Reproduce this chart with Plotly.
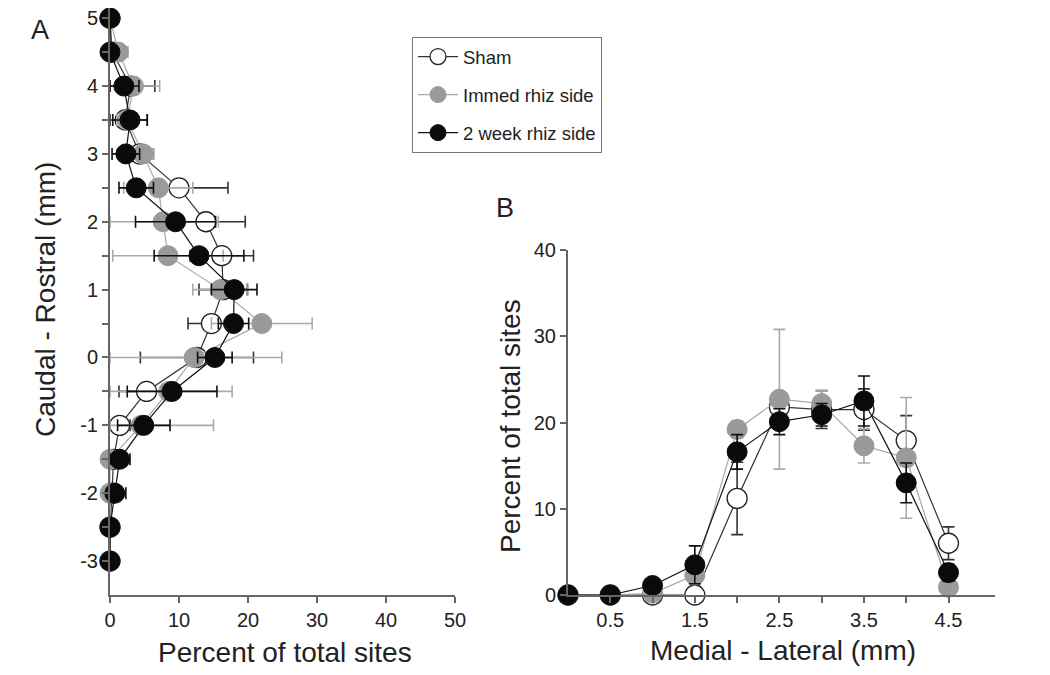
import plotly.graph_objects as go

# ---------------- Panel A data (caudal-rostral position vs percent) ----------------
pos_a = [5, 4.5, 4, 3.5, 3, 2.5, 2, 1.5, 1, 0.5, 0, -0.5, -1, -1.5, -2, -2.5, -3]
sham_a = [0, 0.3, 3.0, 2.2, 4.3, 10.0, 13.9, 16.2, 16.4, 14.7, 12.6, 5.3, 1.4, 0.5, 0.3, 0, 0]
sham_a_err = [0, 0, 3.5, 3.2, 2.0, 7.1, 5.7, 4.6, 3.5, 3.4, 8.2, 4.0, 1.5, 1.5, 0.5, 0, 0]
immed_a = [0, 1.2, 3.4, 2.5, 4.8, 7.0, 7.7, 8.4, 16.0, 22.0, 12.2, 8.5, 4.5, 0, 0, 0, 0]
immed_a_err = [0, 1.4, 3.8, 1.5, 1.5, 5.0, 8.0, 8.0, 4.0, 7.3, 12.7, 9.2, 10.5, 2.5, 1.0, 0, 0]
week2_a = [0, 0, 2.0, 2.9, 2.3, 3.8, 9.5, 12.9, 18.0, 17.9, 15.2, 9.0, 4.9, 1.4, 0.7, 0, 0]
week2_a_err = [0, 0, 2.2, 2.5, 2.0, 2.5, 5.8, 6.5, 3.3, 2.2, 2.5, 6.5, 3.8, 1.5, 1.6, 0, 0]

# ---------------- Panel B data (medial-lateral position vs percent) ----------------
pos_b = [0, 0.5, 1, 1.5, 2, 2.5, 3, 3.5, 4, 4.5]
sham_b = [0, 0, 0, 0, 11.2, 21.8, 21.5, 21.5, 17.9, 6.0]
sham_b_err = [0, 0, 0, 0.5, 4.2, 1.5, 2.2, 2.4, 2.9, 1.9]
immed_b = [0, 0, 0.2, 2.3, 19.2, 22.7, 22.2, 17.3, 15.9, 0.9]
immed_b_err = [0, 0, 0.3, 1.0, 1.0, 8.1, 1.5, 2.0, 7.0, 0.8]
week2_b = [0, 0, 1.1, 3.5, 16.6, 20.1, 20.9, 22.5, 13.0, 2.6]
week2_b_err = [0, 0, 0.3, 2.2, 2.0, 1.5, 1.3, 2.9, 2.3, 1.0]

names = ["Sham", "Immed rhiz side", "2 week rhiz side"]
ticks_a_y = [5, 4.5, 4, 3.5, 3, 2.5, 2, 1.5, 1, 0.5, 0, -0.5, -1, -1.5, -2, -2.5, -3]
ticks_a_y_text = ["5", "", "4", "", "3", "", "2", "", "1", "", "0", "", "-1", "", "-2", "", "-3"]
ticks_a_x = [0, 10, 20, 30, 40, 50]
ticks_b_x = [0.5, 1, 1.5, 2, 2.5, 3, 3.5, 4, 4.5]
ticks_b_x_text = ["0.5", "", "1.5", "", "2.5", "", "3.5", "", "4.5"]
ticks_b_y = [0, 10, 20, 30, 40]

styles = [
    dict(marker=dict(color="white", line=dict(color="#222", width=1.3)), line="#333", err="#333"),
    dict(marker=dict(color="#9a9a9a", line=dict(color="#9a9a9a", width=1)), line="#a8a8a8", err="#aaaaaa"),
    dict(marker=dict(color="#0a0a0a", line=dict(color="#0a0a0a", width=1)), line="#111", err="#111"),
]

W, H = 1050.0, 675.0
OFF = 8  # page body margin
FONT = "Liberation Sans, Arial"


def px(x):
    return (x - OFF) / W


def py(y):
    return 1 - (y - OFF) / H


fig = go.Figure()

series_a = [(sham_a, sham_a_err), (immed_a, immed_a_err), (week2_a, week2_a_err)]
for (vals, errs), nm, st in zip(series_a, names, styles):
    minus = [min(e, v) for v, e in zip(vals, errs)]
    fig.add_trace(go.Scatter(
        x=vals, y=pos_a, mode="lines+markers", name=nm, legendgroup=nm,
        line=dict(color=st["line"], width=1.2),
        marker=dict(size=20, symbol="circle", **st["marker"]),
        error_x=dict(type="data", array=errs, arrayminus=minus, symmetric=False,
                     color=st["err"], thickness=1.6, width=6),
        cliponaxis=False, xaxis="x", yaxis="y", showlegend=True,
    ))

series_b = [(sham_b, sham_b_err), (immed_b, immed_b_err), (week2_b, week2_b_err)]
for (vals, errs), nm, st in zip(series_b, names, styles):
    minus = [min(e, v) for v, e in zip(vals, errs)]
    fig.add_trace(go.Scatter(
        x=pos_b, y=vals, mode="lines+markers", name=nm, legendgroup=nm,
        line=dict(color=st["line"], width=1.2),
        marker=dict(size=20, symbol="circle", **st["marker"]),
        error_y=dict(type="data", array=errs, arrayminus=minus, symmetric=False,
                     color=st["err"], thickness=1.6, width=6),
        cliponaxis=False, xaxis="x2", yaxis="y2", showlegend=False,
    ))

axis_common = dict(showgrid=False, zeroline=False, showline=True, linecolor="#666",
                   linewidth=2, ticks="outside", ticklen=6, tickwidth=1.5, tickcolor="#666",
                   automargin=False, ticklabeloverflow="allow",
                   tickfont=dict(family=FONT, size=20, color="#222"))

fig.update_layout(
    width=1050, height=675,
    margin=dict(l=0, r=0, t=0, b=0, autoexpand=False),
    paper_bgcolor="white", plot_bgcolor="white",
    font=dict(family=FONT, color="#222"),
    xaxis=dict(domain=[px(110), px(455)], range=[0, 50], tickvals=ticks_a_x,
               anchor="y", **axis_common),
    yaxis=dict(domain=[py(595), py(8)], range=[-3.5, 5.15], tickvals=ticks_a_y,
               ticktext=ticks_a_y_text, anchor="x", **axis_common),
    xaxis2=dict(domain=[px(568), px(995)], range=[0, 5.05], tickvals=ticks_b_x,
                ticktext=ticks_b_x_text, anchor="y2", **axis_common),
    yaxis2=dict(domain=[py(595), py(250)], range=[0, 40], tickvals=ticks_b_y,
                anchor="x2", **axis_common),
    legend=dict(x=px(412), y=py(37), xanchor="left", yanchor="top",
                bordercolor="#777", borderwidth=1, bgcolor="white",
                font=dict(family=FONT, size=18.5, color="#222"),
                tracegroupgap=11, itemwidth=40,
                entrywidth=160, entrywidthmode="pixels"),
    showlegend=True,
)


def label(text, x, y, size=28, angle=0):
    fig.add_annotation(text=text, x=px(x), y=py(y), xref="paper", yref="paper",
                       xanchor="center", yanchor="middle", showarrow=False, textangle=angle,
                       font=dict(family=FONT, size=size, color="#222"))


label("A", 40, 30, size=27)
label("B", 505, 208, size=27)
label("Caudal - Rostral (mm)", 45, 300, angle=-90)
label("Percent of total sites", 285, 652)
label("Percent of total sites", 510, 426, angle=-90)
label("Medial - Lateral (mm)", 783, 650)

fig.write_html("out.html")
